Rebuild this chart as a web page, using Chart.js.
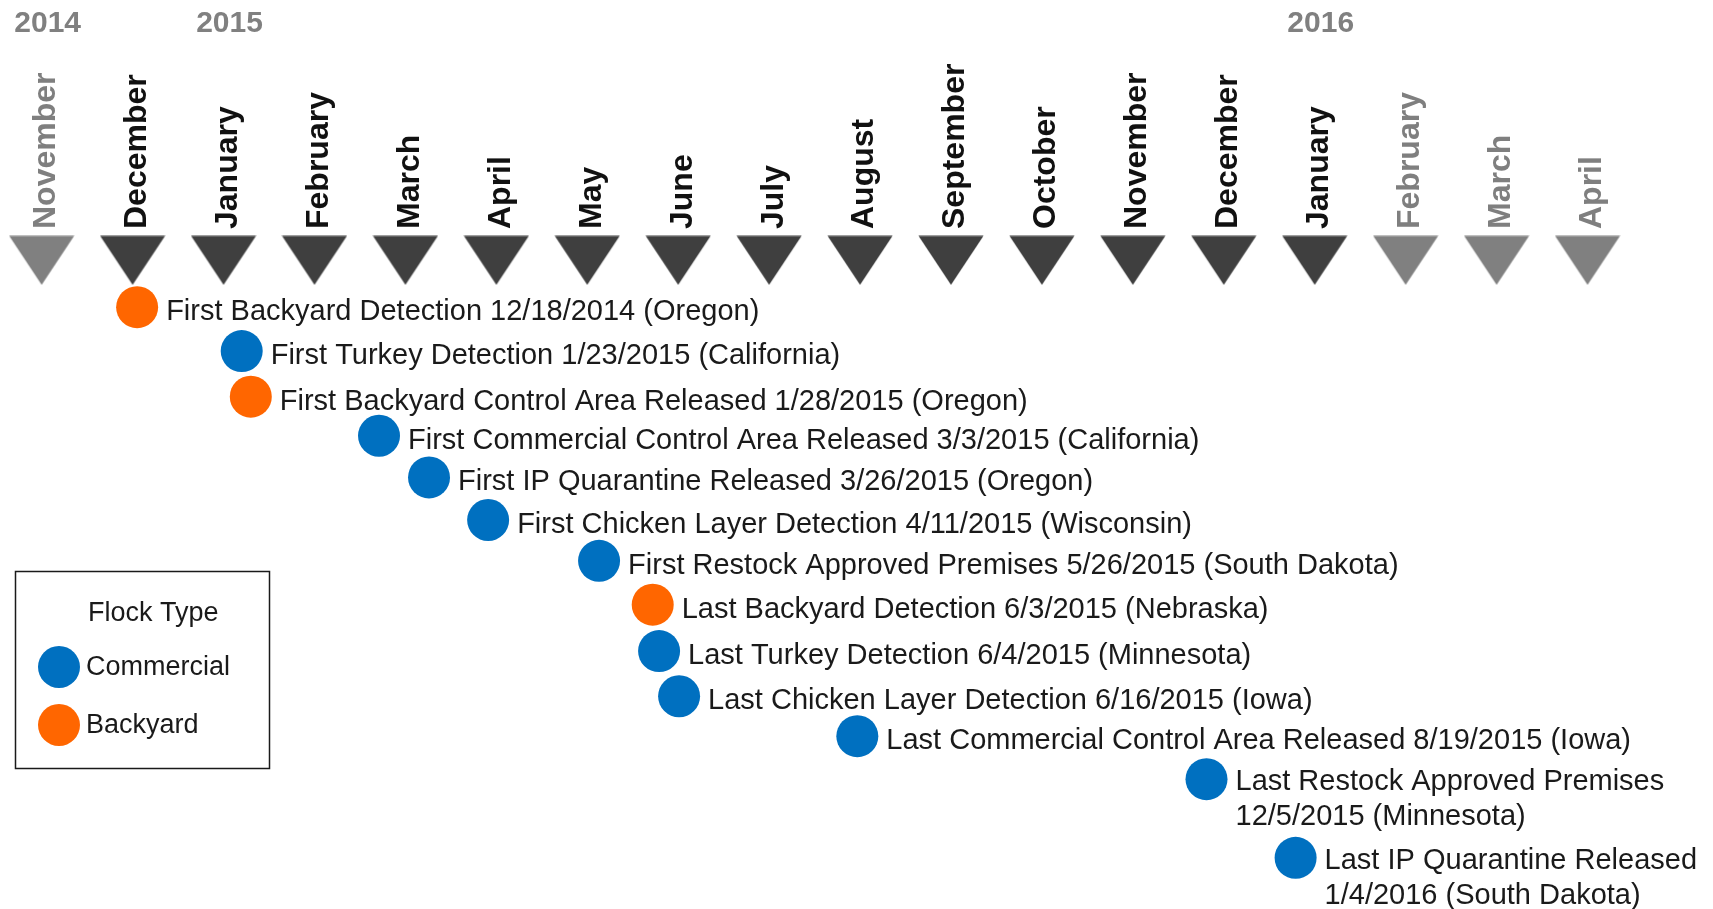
<!DOCTYPE html>
<html>
<head>
<meta charset="utf-8">
<script src="https://cdn.jsdelivr.net/npm/chart.js@4.4.1/dist/chart.umd.min.js"></script>
<style>
  html, body { margin: 0; padding: 0; background: #fff; }
  #wrap { width: 1713px; height: 909px; position: relative; }
</style>
</head>
<body>
<div id="wrap"><canvas id="chartTimeline"></canvas></div>
<script>
// months along the top, November 2014 to April 2016
const months = ['November', 'December', 'January', 'February', 'March', 'April', 'May', 'June', 'July',
  'August', 'September', 'October', 'November', 'December', 'January', 'February', 'March', 'April'];
// months inside the outbreak period are dark, the others grey
const monthInPeriod = [false, true, true, true, true, true, true, true, true, true, true, true, true, true, true, false, false, false];
const years = ['2014', '2015', '2016'];
const yearMonthIndex = [0, 2, 14];

// events: months since November 2014, and row from the top
const eventLabels = [
  'First Backyard Detection 12/18/2014 (Oregon)',
  'First Turkey Detection 1/23/2015 (California)',
  'First Backyard Control Area Released 1/28/2015 (Oregon)',
  'First Commercial Control Area Released 3/3/2015 (California)',
  'First IP Quarantine Released 3/26/2015 (Oregon)',
  'First Chicken Layer Detection 4/11/2015 (Wisconsin)',
  'First Restock Approved Premises 5/26/2015 (South Dakota)',
  'Last Backyard Detection 6/3/2015 (Nebraska)',
  'Last Turkey Detection 6/4/2015 (Minnesota)',
  'Last Chicken Layer Detection 6/16/2015 (Iowa)',
  'Last Commercial Control Area Released 8/19/2015 (Iowa)',
  'Last Restock Approved Premises\n12/5/2015 (Minnesota)',
  'Last IP Quarantine Released\n1/4/2016 (South Dakota)'
];
const eventTypes = ['Backyard', 'Commercial', 'Backyard', 'Commercial', 'Commercial', 'Commercial', 'Commercial',
  'Backyard', 'Commercial', 'Commercial', 'Commercial', 'Commercial', 'Commercial'];
const eventMonth = [1.05, 2.20, 2.30, 3.71, 4.26, 4.91, 6.13, 6.72, 6.79, 7.01, 8.97, 12.81, 13.79];
const eventRow = [0, 1.02, 2.08, 2.99, 3.96, 4.95, 5.90, 6.92, 8.00, 9.05, 9.98, 10.98, 12.81];

const flockTypes = ['Commercial', 'Backyard'];
const flockColors = { Commercial: '#0070c0', Backyard: '#ff6600' };
const legendTitle = 'Flock Type';

const FONT = '"Liberation Sans", Arial, sans-serif';
const MARKER_ROW = -1.09;

// down-pointing month marker
function makeTriangle(color) {
  const c = document.createElement('canvas');
  c.width = 66; c.height = 50;
  const g = c.getContext('2d');
  g.fillStyle = color;
  g.beginPath();
  g.moveTo(0.5, 0.5); g.lineTo(65.5, 0.5); g.lineTo(33, 49.5);
  g.closePath();
  g.fill();
  return c;
}
const darkTri = makeTriangle('#3f3f3f');
const greyTri = makeTriangle('#808080');

const eventSets = flockTypes.map(type => ({
  label: type,
  isEvents: true,
  data: eventLabels
    .map((t, i) => ({ x: eventMonth[i], y: eventRow[i], label: t, type: eventTypes[i] }))
    .filter(d => d.type === type),
  backgroundColor: flockColors[type],
  borderWidth: 0,
  pointRadius: 21
}));

const markerSet = {
  label: 'months',
  data: months.map((m, i) => ({ x: i, y: MARKER_ROW })),
  pointStyle: ctx => monthInPeriod[ctx.dataIndex] ? darkTri : greyTri,
  pointRadius: 25
};

// text next to each event
const eventText = {
  id: 'eventText',
  afterDatasetsDraw(chart) {
    const ctx = chart.ctx;
    ctx.save();
    ctx.font = '29px ' + FONT;
    ctx.fillStyle = '#1a1a1a';
    ctx.textAlign = 'left';
    ctx.textBaseline = 'alphabetic';
    chart.data.datasets.forEach((ds, di) => {
      if (!ds.isEvents) return;
      chart.getDatasetMeta(di).data.forEach((pt, i) => {
        const lines = ds.data[i].label.split('\n');
        const first = lines.length > 1 ? 11 : 13;
        lines.forEach((t, k) => ctx.fillText(t, pt.x + 29, pt.y + first + k * 35));
      });
    });
    ctx.restore();
  }
};

// boxed legend, lower left
const flockLegend = {
  id: 'flockLegend',
  afterDraw(chart) {
    const ctx = chart.ctx;
    ctx.save();
    ctx.strokeStyle = '#1a1a1a';
    ctx.lineWidth = 1.5;
    ctx.strokeRect(15.5, 571.5, 254, 197);
    ctx.font = '27px ' + FONT;
    ctx.textBaseline = 'middle';
    ctx.fillStyle = '#1a1a1a';
    ctx.fillText(legendTitle, 88, 614);
    chart.data.datasets.filter(d => d.isEvents).forEach((ds, i) => {
      const y = 667 + i * 58;
      ctx.fillStyle = ds.backgroundColor;
      ctx.beginPath();
      ctx.arc(59, y, 21, 0, Math.PI * 2);
      ctx.fill();
      ctx.fillStyle = '#1a1a1a';
      ctx.fillText(ds.label, 86, y + 1);
    });
    ctx.restore();
  }
};

new Chart(document.getElementById('chartTimeline'), {
  type: 'scatter',
  data: { datasets: [...eventSets, markerSet] },
  options: {
    responsive: true,
    maintainAspectRatio: false,
    animation: false,
    events: [],
    clip: false,
    layout: { padding: 0, autoPadding: false },
    plugins: { legend: { display: false }, tooltip: { enabled: false } },
    scales: {
      x: {
        type: 'linear',
        position: 'top',
        weight: 0,
        min: -0.458,
        max: 18.38,
        grid: { display: false, drawTicks: false },
        border: { display: false },
        afterBuildTicks: s => { s.ticks = months.map((m, i) => ({ value: i })); },
        afterFit: s => { s.height = 184; },
        ticks: {
          autoSkip: false,
          minRotation: 90,
          maxRotation: 90,
          padding: 3,
          labelOffset: 43,
          callback: (v, i) => months[i],
          color: ctx => monthInPeriod[ctx.index] ? '#111111' : '#7f7f7f',
          font: { family: FONT, size: 32, weight: 'bold' }
        }
      },
      years: {
        type: 'linear',
        position: 'top',
        weight: 1,
        min: -0.458,
        max: 18.38,
        grid: { display: false, drawTicks: false },
        border: { display: false },
        afterBuildTicks: s => { s.ticks = yearMonthIndex.map(v => ({ value: v })); },
        afterFit: s => { s.height = 48; },
        ticks: {
          autoSkip: false,
          minRotation: 0,
          maxRotation: 0,
          padding: 6,
          labelOffset: 6,
          callback: (v, i) => years[i],
          color: '#808080',
          font: { family: FONT, size: 30, weight: 'bold' }
        }
      },
      y: {
        type: 'linear',
        display: false,
        reverse: true,
        min: -1.75,
        max: 14
      }
    }
  },
  plugins: [eventText, flockLegend]
});
</script>
</body>
</html>
